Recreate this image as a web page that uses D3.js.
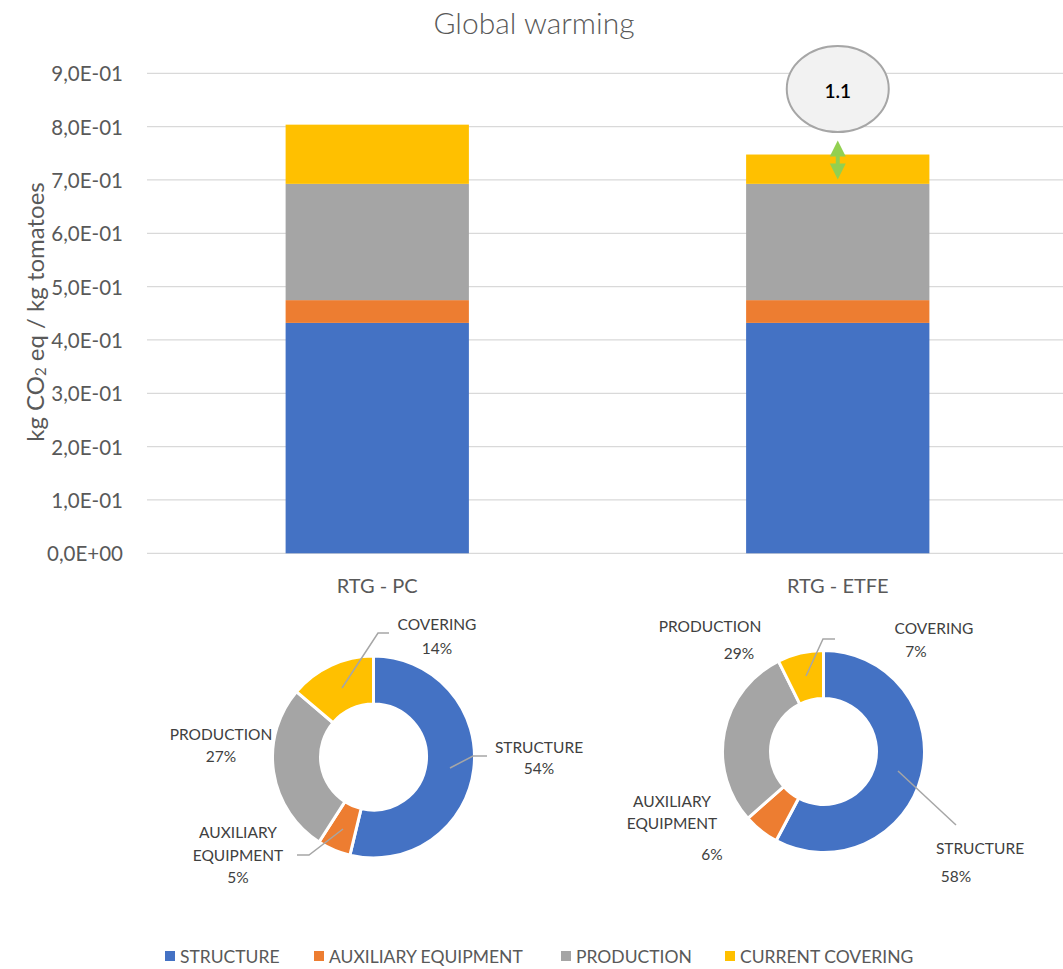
<!DOCTYPE html>
<html>
<head>
<meta charset="utf-8">
<script src="https://cdn.jsdelivr.net/npm/d3@7"></script>
<style>
  html, body { margin: 0; padding: 0; background: #fff; }
  svg { display: block; font-family: Lato, "Open Sans", sans-serif; }
</style>
</head>
<body>
<svg id="chart" width="1063" height="969"></svg>
<script>
// ---------- data ----------
const categories = ["RTG - PC", "RTG - ETFE"];
const seriesNames = ["STRUCTURE", "AUXILIARY EQUIPMENT", "PRODUCTION", "CURRENT COVERING"];
const structure = [0.432, 0.432];
const auxiliary = [0.0427, 0.0427];
const production = [0.218, 0.218];
const covering = [0.111, 0.055];
const yTicks = [0, 0.1, 0.2, 0.3, 0.4, 0.5, 0.6, 0.7, 0.8, 0.9];
const yTickLabels = ["0,0E+00", "1,0E-01", "2,0E-01", "3,0E-01", "4,0E-01", "5,0E-01", "6,0E-01", "7,0E-01", "8,0E-01", "9,0E-01"];
const donutLabelNames = ["STRUCTURE", "AUXILIARY EQUIPMENT", "PRODUCTION", "COVERING"];
const annotationText = "1.1";

// ---------- styles ----------
const colors = ["#4472c4", "#ed7d31", "#a5a5a5", "#ffc000"];
const textColor = "#595959";
const gridColor = "#d9d9d9";
const leaderColor = "#a6a6a6";

const svg = d3.select("#chart");
const W = 1063;

// ---------- scales ----------
const y = d3.scaleLinear().domain([0, 0.9]).range([553.3, 73.3]);
const x = d3.scaleBand().domain(categories).range([147, 1068]).paddingInner(0.602).paddingOuter(0.301);

// title
svg.append("text").attr("x", 534).attr("y", 22).attr("text-anchor", "middle")
  .attr("dominant-baseline", "central").attr("font-size", 30).attr("font-weight", 300)
  .attr("fill", textColor).text("Global warming");

// gridlines
svg.append("g").selectAll("line").data(yTicks).join("line")
  .attr("x1", 147).attr("x2", W)
  .attr("y1", d => y(d)).attr("y2", d => y(d))
  .attr("stroke", gridColor).attr("stroke-width", 1.3);

// y tick labels
svg.append("g").selectAll("text").data(yTicks).join("text")
  .attr("x", 123).attr("y", d => y(d)).attr("text-anchor", "end")
  .attr("dominant-baseline", "central").attr("font-size", 20.5).attr("fill", textColor)
  .text((d, i) => yTickLabels[i]);

// y axis title
const yt = svg.append("text").attr("transform", "translate(34,312) rotate(-90)")
  .attr("text-anchor", "middle").attr("dominant-baseline", "central")
  .attr("font-size", 24).attr("fill", textColor);
yt.append("tspan").text("kg CO");
yt.append("tspan").attr("font-size", 15).attr("dy", 6).text("2");
yt.append("tspan").attr("dy", -6).text(" eq / kg  tomatoes");

// stacked bars
const rows = categories.map((c, i) => ({
  cat: c, s0: structure[i], s1: auxiliary[i], s2: production[i], s3: covering[i]
}));
const stack = d3.stack().keys(["s0", "s1", "s2", "s3"]);
const layers = stack(rows);
svg.append("g").selectAll("g").data(layers).join("g")
  .attr("fill", (d, i) => colors[i])
  .selectAll("rect").data(d => d).join("rect")
  .attr("x", d => x(d.data.cat)).attr("width", x.bandwidth())
  .attr("y", d => y(d[1])).attr("height", d => y(d[0]) - y(d[1]));

// x labels
svg.append("g").selectAll("text").data(categories).join("text")
  .attr("x", d => x(d) + x.bandwidth() / 2).attr("y", 585)
  .attr("text-anchor", "middle").attr("dominant-baseline", "central")
  .attr("font-size", 20).attr("fill", textColor).text(d => d);

// annotation ellipse + arrow (on ETFE bar)
const ax = x(categories[1]) + x.bandwidth() / 2;
const topE = y(structure[1] + auxiliary[1] + production[1] + covering[1]);
svg.append("ellipse").attr("cx", ax).attr("cy", 89).attr("rx", 51).attr("ry", 43)
  .attr("fill", "#f2f2f2").attr("stroke", "#a6a6a6").attr("stroke-width", 2);
svg.append("text").attr("x", ax).attr("y", 90).attr("text-anchor", "middle")
  .attr("dominant-baseline", "central").attr("font-size", 19).attr("font-weight", 600)
  .attr("fill", "#000").text(annotationText);
const aTop = topE - 14, aBot = topE + 25;
const green = "#92d050";
svg.append("path").attr("fill", green)
  .attr("d", `M${ax},${aTop} L${ax - 8},${aTop + 16} L${ax + 8},${aTop + 16} Z`);
svg.append("path").attr("fill", green)
  .attr("d", `M${ax},${aBot} L${ax - 8},${aBot - 16} L${ax + 8},${aBot - 16} Z`);
svg.append("rect").attr("fill", green).attr("x", ax - 2).attr("y", aTop + 14).attr("width", 4).attr("height", aBot - aTop - 28);

// ---------- donuts ----------
const donutLayout = [
  { cx: 373.5, cy: 757, labels: [
      { lines: [[539, 747, 0], [539, 768, "pct"]], leader: [[450, 768], [473, 756], [487, 756]] },
      { lines: [[238, 832, "AUXILIARY"], [238, 855, "EQUIPMENT"], [238, 877, "pct"]], leader: [[343, 829], [309, 855], [297, 855]] },
      { lines: [[221, 734, 0], [221, 756, "pct"]], leader: null },
      { lines: [[437, 624, 0], [437, 648, "pct"]], leader: [[342, 688], [378, 633], [389, 633]] }
  ]},
  { cx: 823.5, cy: 751.5, labels: [
      { lines: [[980, 848, 0], [956, 876, "pct"]], leader: [[898, 771], [956, 825]] },
      { lines: [[672, 801, "AUXILIARY"], [672, 823, "EQUIPMENT"], [712, 854, "pct"]], leader: null },
      { lines: [[710, 626, 0], [739, 653, "pct"]], leader: null },
      { lines: [[934, 628, 0], [916, 651, "pct"]], leader: [[806, 676], [823, 639], [835, 639]] }
  ]}
];
const outerR = 101, innerR = 53;
const pie = d3.pie().sort(null).value(d => d);
const arc = d3.arc().innerRadius(innerR).outerRadius(outerR);

categories.forEach((c, i) => {
  const vals = [structure[i], auxiliary[i], production[i], covering[i]];
  const total = d3.sum(vals);
  const L = donutLayout[i];
  const g = svg.append("g").attr("transform", `translate(${L.cx},${L.cy})`);
  g.selectAll("path").data(pie(vals)).join("path")
    .attr("d", arc).attr("fill", (d, j) => colors[j])
    .attr("stroke", "#fff").attr("stroke-width", 3).attr("stroke-linejoin", "round");
  L.labels.forEach((lab, j) => {
    if (lab.leader) {
      svg.append("polyline").attr("points", lab.leader.map(p => p.join(",")).join(" "))
        .attr("fill", "none").attr("stroke", leaderColor).attr("stroke-width", 1.5);
    }
    lab.lines.forEach(([lx, ly, t]) => {
      let s;
      if (t === "pct") s = Math.round(vals[j] / total * 100) + "%";
      else if (t === 0) s = donutLabelNames[j];
      else s = t;
      svg.append("text").attr("x", lx).attr("y", ly).attr("text-anchor", "middle")
        .attr("dominant-baseline", "central").attr("font-size", 15.5)
        .attr("fill", "#404040").text(s);
    });
  });
});

// ---------- legend ----------
const legendX = [165, 314, 561, 725];
const lg = svg.append("g").selectAll("g").data(seriesNames).join("g")
  .attr("transform", (d, i) => `translate(${legendX[i]},956)`);
lg.append("rect").attr("x", 0).attr("y", -5).attr("width", 10).attr("height", 10)
  .attr("fill", (d, i) => colors[i]);
lg.append("text").attr("x", 15).attr("y", 0).attr("dominant-baseline", "central")
  .attr("font-size", 17.5).attr("fill", textColor).text(d => d);
</script>
</body>
</html>
